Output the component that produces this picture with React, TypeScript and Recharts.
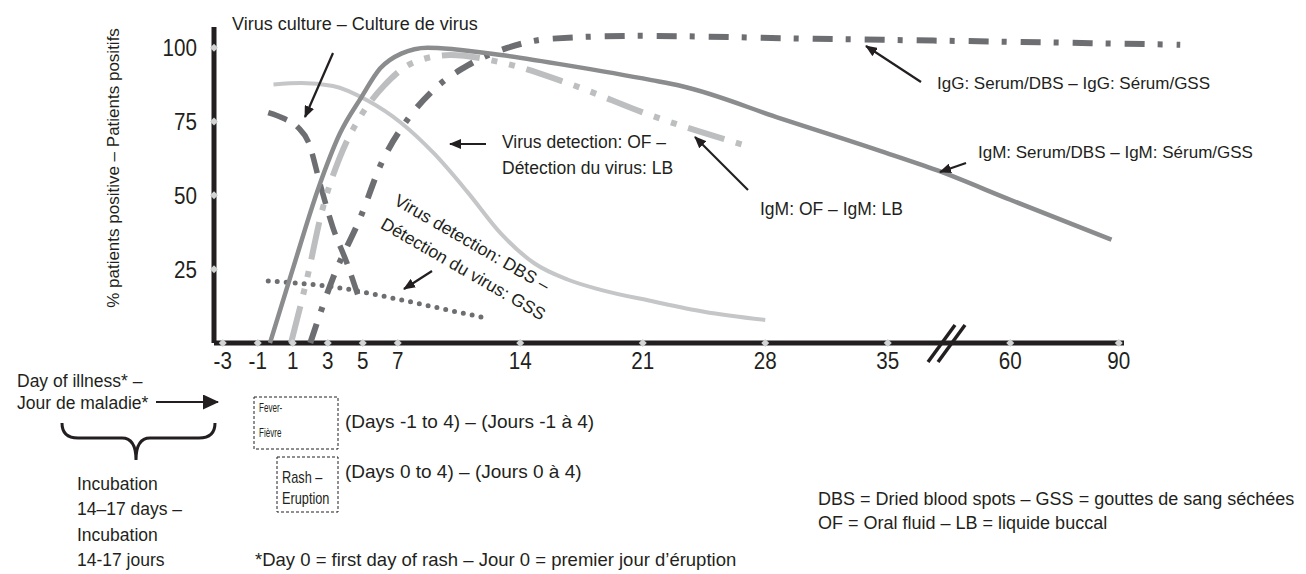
import React from "react";
import { ComposedChart, Line, XAxis, YAxis, ReferenceLine, ReferenceDot } from "recharts";

// axis labels
const tickDays = [-3, -1, 1, 3, 5, 7, 14, 21, 28, 35, 60, 90];
const pctTicks = [25, 50, 75, 100];

// IgM: serum / DBS (solid mid grey)
const igmSerumDays = [-0.3, 1, 2.5, 3.7, 4.9, 6, 7.2, 8.7, 10.2, 12.9, 16.7, 21.5, 23.2, 28.9, 34.6, 45, 60, 88];
const igmSerumPct = [0, 25, 53, 71, 83, 93, 98, 100, 99.5, 97.5, 94, 89, 87, 76, 65, 58.5, 48.5, 35];

// IgM: oral fluid (light grey dash-dot-dot)
const igmOfDays = [0.9, 1.9, 2.6, 3.7, 4.9, 6.2, 7.9, 10, 12.9, 16.7, 21.5, 26.8];
const igmOfPct = [0, 24, 43, 63, 77, 87, 95, 97.5, 95, 88, 77, 67];

// IgG: serum / DBS (dark grey dash-dot)
const iggDays = [2, 3.3, 4.9, 6, 7.6, 9.1, 11, 13.3, 15.7, 20.5, 30.8, 60, 107];
const iggPct = [0, 22, 43, 60, 76, 86, 94, 100, 103, 104, 103, 102, 101];

// virus culture (dark grey dashes)
const cultureDays = [-0.4, 0.5, 1.3, 1.9, 2.6, 3.3, 4.1, 4.9];
const culturePct = [78, 76, 73, 68, 53, 39, 27, 13];

// virus detection: oral fluid (light grey solid)
const ofDetDays = [-0.1, 1.5, 3.3, 5.3, 7.2, 9.1, 11, 12.9, 14.8, 16.7, 18.6, 21.5, 24.5, 28];
const ofDetPct = [87.5, 88, 87, 82, 74.5, 64, 51, 37, 27, 21.5, 18, 14.2, 10.6, 7.8];

// virus detection: DBS (dotted)
const dbsDetDays = [-0.4, 3.3, 7.2, 10, 12.1];
const dbsDetPct = [21, 19, 14.6, 11, 8.4];

const ink = "#231f20";
const dark = "#6d6e71";
const mid = "#8a8c8e";
const light = "#bcbec0";
const sans = "'Liberation Sans', Arial, sans-serif";

// the axis is squeezed after day 35 (axis break)
function toPos(d: number) {
  if (d <= 35) return d;
  if (d <= 60) return 35 + ((d - 35) * 7) / 25;
  return 42 + ((d - 60) * 6.2) / 30;
}

const toRows = (days: number[], pct: number[]) => days.map((d, i) => ({ x: toPos(d), y: pct[i] }));

const diamond = (p: any) => (
  <path d={`M${p.cx},${p.cy - 4}L${p.cx + 4},${p.cy}L${p.cx},${p.cy + 4}L${p.cx - 4},${p.cy}Z`} fill="#d1d3d4" />
);

// condensed-looking tick labels
const XTick = (p: any) => (
  <g transform={`translate(${p.x},${p.y})`}>
    <text transform="scale(0.86,1)" textAnchor="middle" dy="0.71em" fontSize={24} fontFamily={sans} fill={ink}>
      {tickDays[p.index]}
    </text>
  </g>
);
const YTick = (p: any) => (
  <g transform={`translate(${p.x},${p.y})`}>
    <text transform="scale(0.86,1)" textAnchor="end" dy="0.355em" fontSize={24} fontFamily={sans} fill={ink}>
      {p.payload.value}
    </text>
  </g>
);

const Arrow = ({ x1, y1, x2, y2, big }: any) => (
  <line x1={x1} y1={y1} x2={x2} y2={y2} stroke={ink} strokeWidth={2.2} markerEnd={big ? "url(#ahBig)" : "url(#ah)"} />
);

const T = ({ x, y, size = 17.5, sx = 1, children }: any) => (
  <text transform={`translate(${x},${y}) scale(${sx},1)`} fontSize={size} fontFamily={sans} fill={ink}>
    {children}
  </text>
);

export default function App() {
  return (
    <div style={{ position: "absolute", left: 0, top: 0, width: 1306, height: 574, background: "#fff" }}>
      <ComposedChart width={1306} height={574} margin={{ top: 27, right: 112, bottom: 201, left: 154 }}>
        <XAxis
          type="number"
          dataKey="x"
          domain={[-3.5, 52.5]}
          ticks={tickDays.map(toPos)}
          interval={0}
          axisLine={false}
          tickLine={false}
          tickSize={0}
          tickMargin={9}
          tick={<XTick />}
          allowDataOverflow
        />
        <YAxis
          type="number"
          domain={[0, 107]}
          ticks={pctTicks}
          width={60}
          axisLine={{ stroke: ink, strokeWidth: 5 }}
          tickLine={false}
          tickSize={0}
          tickMargin={17}
          tick={<YTick />}
        />
        <ReferenceLine
          segment={[{ x: -3.5, y: 0 }, { x: toPos(90) + 0.3, y: 0 }]}
          stroke={ink}
          strokeWidth={5}
          ifOverflow="visible"
        />
        <Line data={toRows(ofDetDays, ofDetPct)} dataKey="y" type="monotone" stroke="#c5c6c8" strokeWidth={4} dot={false} isAnimationActive={false} />
        <Line data={toRows(dbsDetDays, dbsDetPct)} dataKey="y" type="monotone" stroke={dark} strokeWidth={5} strokeDasharray="0 9" strokeLinecap="round" dot={false} isAnimationActive={false} />
        <Line data={toRows(cultureDays, culturePct)} dataKey="y" type="monotone" stroke={dark} strokeWidth={5.5} strokeDasharray="20 12" dot={false} isAnimationActive={false} />
        <Line data={toRows(igmOfDays, igmOfPct)} dataKey="y" type="monotone" stroke={light} strokeWidth={6} strokeDasharray="38 12 6 12 6 12" dot={false} isAnimationActive={false} />
        <Line data={toRows(iggDays, iggPct)} dataKey="y" type="monotone" stroke={dark} strokeWidth={6} strokeDasharray="20 13 5 14" dot={false} isAnimationActive={false} />
        <Line data={toRows(igmSerumDays, igmSerumPct)} dataKey="y" type="monotone" stroke={mid} strokeWidth={4.5} dot={false} isAnimationActive={false} />
        {pctTicks.map((v) => (
          <ReferenceDot key={"y" + v} x={-3.5} y={v} r={4} shape={diamond} ifOverflow="visible" />
        ))}
        {tickDays.map((d) => (
          <ReferenceDot key={"x" + d} x={toPos(d)} y={0} r={4} shape={diamond} ifOverflow="visible" />
        ))}
      </ComposedChart>

      <svg width={1306} height={574} style={{ position: "absolute", left: 0, top: 0, pointerEvents: "none" }}>
        <defs>
          <marker id="ah" markerWidth="12" markerHeight="10" refX="11" refY="5" orient="auto" markerUnits="userSpaceOnUse">
            <path d="M0,0L12,5L0,10Z" fill={ink} />
          </marker>
          <marker id="ahBig" markerWidth="16" markerHeight="15" refX="15" refY="7.5" orient="auto" markerUnits="userSpaceOnUse">
            <path d="M0,0L16,7.5L0,15Z" fill={ink} />
          </marker>
        </defs>

        {/* axis break */}
        <line x1={928} y1={362} x2={955} y2={325} stroke={ink} strokeWidth={3.5} />
        <line x1={938} y1={362} x2={965} y2={325} stroke={ink} strokeWidth={3.5} />

        <text transform="translate(119,168) rotate(-90)" textAnchor="middle" fontSize={17} fontFamily={sans} fill={ink}>
          % patients positive – Patients positifs
        </text>

        <T x={232} y={30} size={18}>Virus culture – Culture de virus</T>
        <Arrow x1={333} y1={53} x2={305} y2={117} />

        <T x={502} y={148}>Virus detection: OF –</T>
        <T x={502} y={174}>Détection du virus: LB</T>
        <Arrow x1={486} y1={144} x2={450} y2={144} />

        <text transform="rotate(30,393,204)" x={393} y={204} fontSize={17.5} fontFamily={sans} fill={ink}>
          <tspan x={393}>Virus detection: DBS –</tspan>
          <tspan x={393} dy={27}>Détection du virus: GSS</tspan>
        </text>
        <Arrow x1={432} y1={271} x2={404} y2={289} />

        <T x={760} y={215}>IgM: OF – IgM: LB</T>
        <Arrow x1={748} y1={190} x2={695} y2={137} />

        <T x={937} y={89} size={17}>IgG: Serum/DBS – IgG: Sérum/GSS</T>
        <Arrow x1={921} y1={82} x2={866} y2={46} />

        <T x={978} y={158} size={17}>IgM: Serum/DBS – IgM: Sérum/GSS</T>
        <Arrow x1={966} y1={163} x2={940} y2={172} />

        {/* bottom left notes */}
        <T x={17} y={387}>Day of illness* –</T>
        <T x={17} y={409}>Jour de maladie*</T>
        <Arrow x1={156} y1={402} x2={218} y2={402} big />
        <path
          d="M62,423 Q62,438 78,438 L122,438 Q136,438 136,460 Q136,438 150,438 L199,438 Q215,438 215,423"
          fill="none"
          stroke={ink}
          strokeWidth={3}
        />
        <T x={77} y={490}>Incubation</T>
        <T x={77} y={515}>14–17 days –</T>
        <T x={77} y={541}>Incubation</T>
        <T x={77} y={566}>14-17 jours</T>

        <rect x={254} y={397} width={84} height={52} fill="none" stroke={ink} strokeWidth={1} strokeDasharray="3 2" />
        <T x={259} y={412} size={13} sx={0.62}>Fever-</T>
        <T x={259} y={437} size={13} sx={0.62}>Fièvre</T>
        <T x={345} y={428} size={19}>(Days -1 to 4) – (Jours -1 à 4)</T>

        <rect x={277} y={457} width={61} height={55} fill="none" stroke={ink} strokeWidth={1} strokeDasharray="3 2" />
        <T x={282} y={483} size={17} sx={0.75}>Rash –</T>
        <T x={282} y={504} size={17} sx={0.75}>Eruption</T>
        <T x={345} y={478} size={19}>(Days 0 to 4) – (Jours 0 à 4)</T>

        <T x={255} y={566} size={18.5}>*Day 0 = first day of rash – Jour 0 = premier jour d’éruption</T>

        <T x={818} y={505} size={18}>DBS = Dried blood spots – GSS = gouttes de sang séchées</T>
        <T x={818} y={529} size={18}>OF = Oral fluid – LB = liquide buccal</T>
      </svg>
    </div>
  );
}
